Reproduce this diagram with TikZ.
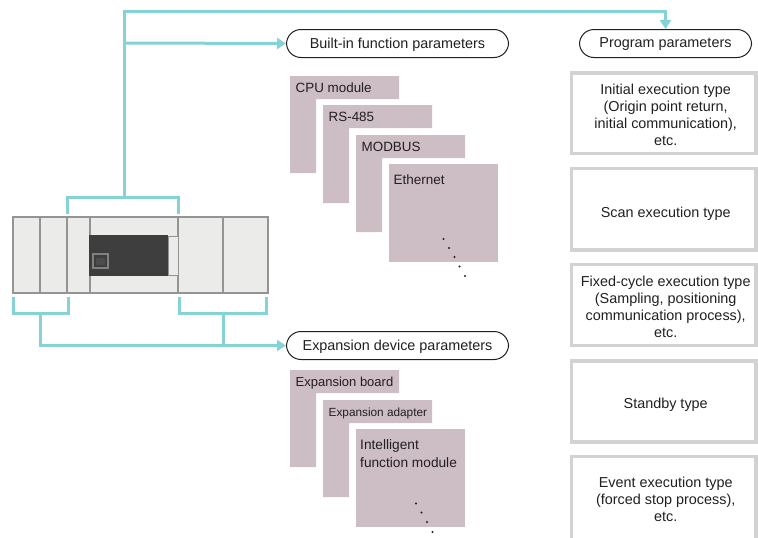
\documentclass[tikz,border=0pt]{standalone}
\usepackage{fontspec}
\setmainfont{Liberation Sans}
\usetikzlibrary{arrows.meta}
\definecolor{teal1}{HTML}{86D3D5}
\definecolor{pink1}{HTML}{CDBDC4}
\definecolor{grey1}{HTML}{D2D2D2}
\definecolor{plcfill}{HTML}{EBEBEA}
\definecolor{plcline}{HTML}{949494}
\definecolor{dark1}{HTML}{3E3E3E}
\definecolor{txt}{HTML}{231F20}
\tikzset{
  x=1pt,y=-1pt,
  every node/.style={text=txt,font=\fontsize{14.4}{17}\selectfont},
  wire/.style={draw=teal1,line width=3pt},
  flow/.style={wire,-{Triangle[length=9pt,width=11pt,fill=teal1]}},
  pill/.style={draw=txt,line width=1pt,rounded corners=14.5pt,fill=white,inner sep=0pt,minimum height=28pt,anchor=north west},
  typebox/.style={draw=grey1,line width=3.4pt,fill=white,inner sep=0pt,anchor=north west,minimum width=184.3pt},
  typetext/.style={align=center,inner sep=0pt},
  pinkshape/.style={fill=pink1,draw=none},
  plabel/.style={anchor=base west,inner sep=0pt,font=\fontsize{13.5}{18}\selectfont},
  plc/.style={draw=plcline,line width=1.3pt,fill=plcfill},
  dotmark/.style={fill=txt,draw=none}
}
\newcommand{\lowered}[2]{\raisebox{-#1pt}[\height][\depth]{#2}}
\newcommand{\tabshape}[5][13.4]{\fill[pinkshape] (#2,#3) -- ++(109,0) -- ++(0,23) -- ++(-83,0) -- (#2+26,#4) -- (#2,#4) -- cycle; \node[plabel,font=\fontsize{#1}{18}\selectfont] at (#2+5.5,#3+16) {#5};}
\begin{document}
\begin{tikzpicture}
\useasboundingbox (0,0) rectangle (758,538);
% controller
\draw[plc] (13,217) rectangle (268,293);
\draw[plc] (40,217) -- (40,293);
\draw[plc] (67,217) -- (67,293);
\draw[plc] (90,217) -- (90,293);
\draw[plc] (178,217) -- (178,293);
\draw[plc] (223,217) -- (223,293);
\fill[dark1] (89,235) rectangle (168,276);
\draw[plcline,line width=1pt,fill=plcfill] (168,236) rectangle (178,275);
\draw[red!80!black,line width=0.8pt] (112,245) -- (138,245);
\draw[gray,line width=1.2pt,fill=dark1] (93,254) rectangle (108,268);
\fill[black!70] (96,258) rectangle (105,265);
% named anchors for wires
\coordinate (topl) at (67,214);
\coordinate (topm) at (124,197);
\coordinate (topr) at (178,214);
\coordinate (bll) at (13,297);
\coordinate (blr) at (68,297);
\coordinate (brl) at (179.5,297);
\coordinate (brr) at (266,297);
% pills
\node[pill,minimum width=222pt] (builtin) at (286,29) {\lowered{1}{Built-in function parameters}};
\node[pill,minimum width=222pt] (expansion) at (286,331) {\lowered{1}{Expansion device parameters}};
\node[pill,minimum width=172pt] (program) at (579,29) {\lowered{1}{Program parameters}};
% wires
\draw[wire] (topl) -- (67,197) -- (178,197) -- (topr);
\draw[wire] (bll) -- (13,313) -- (68,313) -- (blr);
\draw[wire] (brl) -- (179.5,313) -- (266,313) -- (brr);
\draw[flow] (topm) -- (124,11) -| (program.north);
\draw[flow] (124,43) -- (builtin.west);
\draw[flow] (40,313) |- (expansion.west);
\draw[wire] (223,313) -- (223,344);
% pink tabs
\tabshape{290}{76}{173}{CPU module}
\tabshape{323}{105}{203}{RS-485}
\tabshape{356}{135}{232}{MODBUS}
\fill[pinkshape] (389,164) rectangle (498,262);
\node[plabel] at (393.5,184) {Ethernet};
\tabshape[13]{290}{370}{467}{Expansion board}
\tabshape[11.8]{323}{400}{497}{Expansion adapter}
\fill[pinkshape] (356,429) rectangle (465,527);
\node[plabel,anchor=north west,align=left,font=\fontsize{13.7}{18}\selectfont] at (360,439.5) {Intelligent\\function module};
% dots
\foreach \px/\py in {443.5/239,449/248,454.5/257,459.5/266.5,465/276,416/503.5,421.5/512.5,427/522,432.5/532}
  \fill[dotmark] (\px,\py) circle (1.2pt);
% type boxes
\node[typebox,minimum height=80.6pt] (t1) at (570,71.3) {};
\node[typebox,minimum height=81.2pt] (t2) at (570,167) {};
\node[typebox,minimum height=81pt] (t3) at (570,263) {};
\node[typebox,minimum height=81pt] (t4) at (570,359.3) {};
\node[typebox,minimum height=85pt] (t5) at (570,455) {};
\node[typetext] (t1text) at ([xshift=1.85pt,yshift=-1.9pt]t1.center) {Initial execution type\\(Origin point return,\\initial communication),\\etc.};
\node[typetext] (t2text) at ([xshift=1.85pt,yshift=-4.4pt]t2.center) {Scan execution type};
\node[typetext] (t3text) at ([xshift=1.85pt,yshift=-2pt]t3.center) {Fixed-cycle execution type\\(Sampling, positioning\\communication process),\\etc.};
\node[typetext] (t4text) at ([xshift=1.85pt,yshift=-3.7pt]t4.center) {Standby type};
\node[typetext] (t5text) at ([xshift=1.85pt,yshift=-0.5pt]t5.center) {Event execution type\\(forced stop process),\\etc.};
\end{tikzpicture}
\end{document}
